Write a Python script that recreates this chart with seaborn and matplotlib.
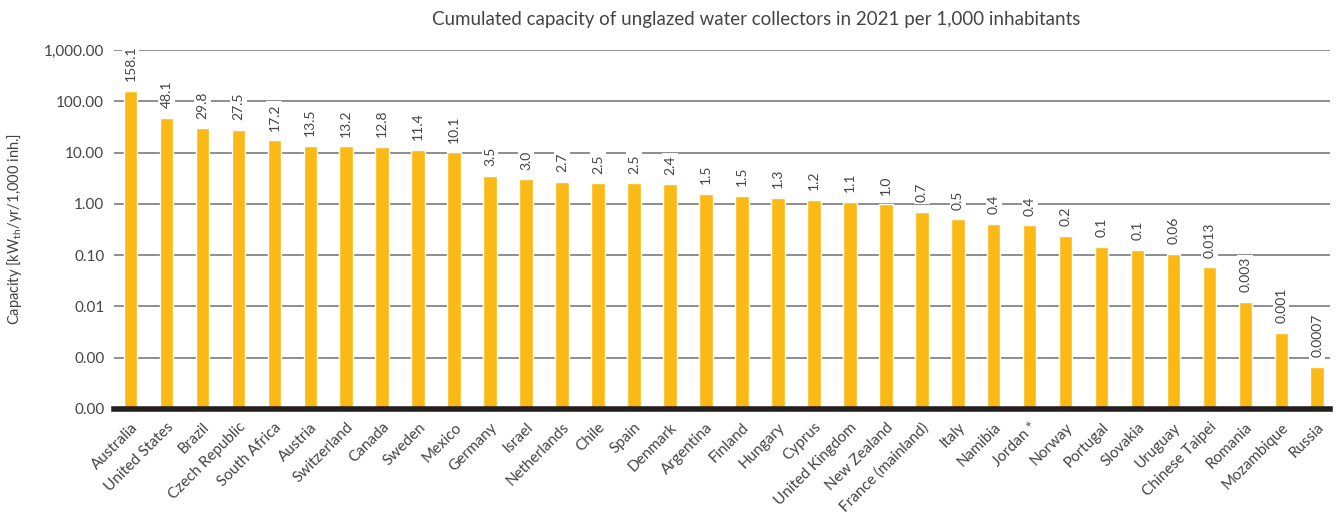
import matplotlib
matplotlib.use("Agg")
import matplotlib.pyplot as plt
import seaborn as sns
import pandas as pd
from matplotlib.ticker import FixedLocator, FixedFormatter

countries = ["Australia", "United States", "Brazil", "Czech Republic", "South Africa",
             "Austria", "Switzerland", "Canada", "Sweden", "Mexico", "Germany", "Israel",
             "Netherlands", "Chile", "Spain", "Denmark", "Argentina", "Finland", "Hungary",
             "Cyprus", "United Kingdom", "New Zealand", "France (mainland)", "Italy",
             "Namibia", "Jordan *", "Norway", "Portugal", "Slovakia", "Uruguay",
             "Chinese Taipei", "Romania", "Mozambique", "Russia"]
# bar heights (log axis)
bar_values = [158.1, 48.1, 29.8, 27.5, 17.2, 13.5, 13.2, 12.8, 11.4, 10.1, 3.5, 3.0,
              2.7, 2.5, 2.5, 2.4, 1.55, 1.45, 1.3, 1.2, 1.1, 0.98, 0.69, 0.5,
              0.41, 0.38, 0.235, 0.147, 0.128, 0.105, 0.058, 0.0123, 0.0031, 0.00066]
# value labels as printed above the bars
bar_labels = ["158.1", "48.1", "29.8", "27.5", "17.2", "13.5", "13.2", "12.8", "11.4",
              "10.1", "3.5", "3.0", "2.7", "2.5", "2.5", "2.4", "1.5", "1.5", "1.3",
              "1.2", "1.1", "1.0", "0.7", "0.5", "0.4", "0.4", "0.2", "0.1", "0.1",
              "0.06", "0.013", "0.003", "0.001", "0.0007"]
ytick_values = [1e-4, 1e-3, 1e-2, 1e-1, 1, 10, 100, 1000]
ytick_labels = ["0.00", "0.00", "0.01", "0.10", "1.00", "10.00", "100.00", "1,000.00"]

title = "Cumulated capacity of unglazed water collectors in 2021 per 1,000 inhabitants"
ylabel = "Capacity [kW$_{\\mathregular{th}}$/yr/1,000 inh.]"

sns.set_theme(style="white")
plt.rcParams["font.family"] = ["Lato", "DejaVu Sans"]
plt.rcParams["mathtext.default"] = "regular"

text_col = "#444444"
bar_col = "#FBB916"

df = pd.DataFrame({"country": countries, "value": bar_values})

fig = plt.figure(figsize=(13.41, 5.16), dpi=100)
ax = fig.add_axes([0.085, 0.2074, 0.907, 0.6957])
ax.set_yscale("log")
sns.barplot(data=df, x="country", y="value", color=bar_col, width=0.38,
            saturation=1, ax=ax, zorder=3)
ax.set_ylim(1e-4, 1000)
ax.set_xlim(-0.46, len(countries) - 1 + 0.36)

ax.yaxis.set_major_locator(FixedLocator(ytick_values))
ax.yaxis.set_major_formatter(FixedFormatter(ytick_labels))
ax.yaxis.set_minor_locator(FixedLocator([]))
for v in ytick_values[1:]:
    ax.axhline(v, color="#6f6f6f", lw=1.1, zorder=1)

ax.tick_params(axis="y", length=0, pad=7, labelsize=11, labelcolor=text_col)
ax.tick_params(axis="x", length=0, pad=8, labelsize=11, labelcolor=text_col)
plt.setp(ax.get_xticklabels(), rotation=45, ha="right", rotation_mode="anchor")

for s in ["top", "right", "left"]:
    ax.spines[s].set_visible(False)
ax.spines["bottom"].set_color("#231f20")
ax.spines["bottom"].set_linewidth(4)
ax.spines["bottom"].set_zorder(5)

for i, (v, lab) in enumerate(zip(bar_values, bar_labels)):
    ax.annotate(lab, (i, v), xytext=(0, 7), textcoords="offset points",
                rotation=90, ha="center", va="bottom", fontsize=10, color=text_col,
                bbox=dict(boxstyle="square,pad=0.15", fc="white", ec="none"),
                zorder=4, annotation_clip=False)

ax.set_xlabel("")
ax.set_ylabel(ylabel, fontsize=10.5, color=text_col)
ax.yaxis.set_label_coords(-0.074, 0.5)
fig.text(0.564, 0.962, title, ha="center", va="center", fontsize=13.5,
         color=text_col)

fig.savefig("out.png", dpi=100)
